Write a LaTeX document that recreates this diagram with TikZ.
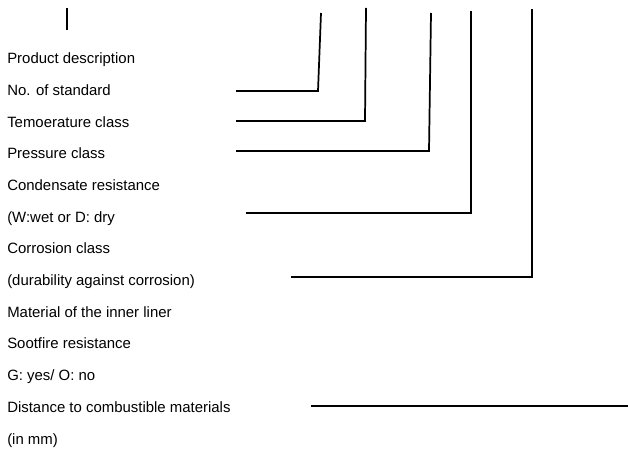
\documentclass[tikz,border=0pt]{standalone}
\usepackage{fontspec}
\setmainfont{Liberation Sans}

\begin{document}
\begin{tikzpicture}[
    x=0.75pt, y=-0.75pt,
    lbl/.style={anchor=west, inner sep=0pt, text height=8pt, text depth=0pt,
      font=\fontsize{11.2}{13}\selectfont},
    lead/.style={line width=1.3pt}
    %lead/.style={line width=1.2pt, line cap=round}
   ]
   \useasboundingbox (0,0) rectangle (628,449);
   % the list of labels
   \node[lbl] (descr)    at (7,58)  {Product description};
   \node[lbl] (standard) at (7,90)  {No. of standard};
   \node[lbl] (temp)     at (7,122) {Temoerature class};
   \node[lbl] (pressure) at (7,153) {Pressure class};
   \node[lbl] (condens)  at (7,185) {Condensate resistance};
   \node[lbl] (wetdry)   at (7,217) {(W:wet or D: dry};
   \node[lbl] (corr)     at (7,248) {Corrosion class};
   \node[lbl] (durab)    at (7,280) {(durability against corrosion)};
   \node[lbl] (liner)    at (7,312) {Material of the inner liner};
   \node[lbl] (soot)     at (7,343) {Sootfire resistance};
   \node[lbl] (yesno)    at (7,375) {G: yes/ O: no};
   \node[lbl] (dist)     at (7,407) {Distance to combustible materials};
   \node[lbl] (inmm)     at (7,439) {(in mm)};
   % ends of the leaders
   \coordinate (top0) at (67,8);   \coordinate (bot0) at (67,30);
   \coordinate (top1) at (321,13); \coordinate (c1) at (318,91);  \coordinate (s1) at (236,91);
   \coordinate (top2) at (366,8);  \coordinate (c2) at (365,121); \coordinate (s2) at (236,121);
   \coordinate (top3) at (431,13); \coordinate (c3) at (429,151); \coordinate (s3) at (236,151);
   \coordinate (top4) at (471,11); \coordinate (c4) at (471,213); \coordinate (s4) at (246,213);
   \coordinate (top5) at (532,9);  \coordinate (c5) at (532,277); \coordinate (s5) at (291,277);
   \coordinate (s6) at (311,406);  \coordinate (e6) at (628,406);
   % leaders
   \draw[lead] (top0) -- (bot0);
   \draw[lead] (s1) -- (c1) -- (top1);
   \draw[lead] (s2) -- (c2) -- (top2);
   \draw[lead] (s3) -- (c3) -- (top3);
   \draw[lead] (s4) -- (c4) -- (top4);
   \draw[lead] (s5) -- (c5) -- (top5);
   \draw[lead] (s6) -- (e6);
  \end{tikzpicture}
\end{document}
